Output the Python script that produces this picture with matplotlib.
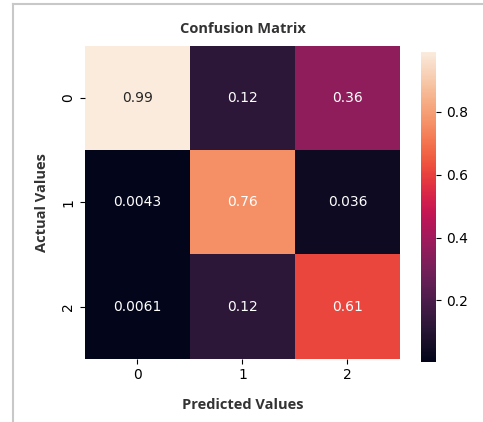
import matplotlib
matplotlib.use("Agg")
import matplotlib.pyplot as plt
from matplotlib.lines import Line2D
import numpy as np
import seaborn as sns

# normalised confusion matrix, rows = actual, cols = predicted
row_0 = [0.99, 0.12, 0.36]
row_1 = [0.0043, 0.76, 0.036]
row_2 = [0.0061, 0.12, 0.61]
class_labels = ["0", "1", "2"]

cm = np.array([row_0, row_1, row_2])

fig = plt.figure(figsize=(4.83, 4.22), dpi=100)
ax = fig.add_axes([0.176, 0.150, 0.652, 0.741])
cax = fig.add_axes([0.8716, 0.142, 0.031, 0.735])

sns.heatmap(cm, annot=True, cmap="rocket", ax=ax, cbar_ax=cax,
            xticklabels=class_labels, yticklabels=class_labels,
            annot_kws={"fontsize": 10})

lab_font = dict(family=["Open Sans", "DejaVu Sans"], fontweight="bold",
                fontsize=10.5, color="#333333")
ax.set_title("Confusion Matrix", pad=9, **lab_font)
ax.set_xlabel("Predicted Values", labelpad=11, **lab_font)
ax.set_ylabel("Actual Values", labelpad=9, **lab_font)
ax.tick_params(labelsize=10)
cax.tick_params(labelsize=10)

# screenshot frame (left + top gray edge)
fig.add_artist(Line2D([13 / 483, 13 / 483], [0, 1 - 4 / 422],
                      color="#c8c8c8", lw=1.5))
fig.add_artist(Line2D([13 / 483, 1], [1 - 4 / 422, 1 - 4 / 422],
                      color="#c8c8c8", lw=1.5))

fig.savefig("out.png", dpi=100)
